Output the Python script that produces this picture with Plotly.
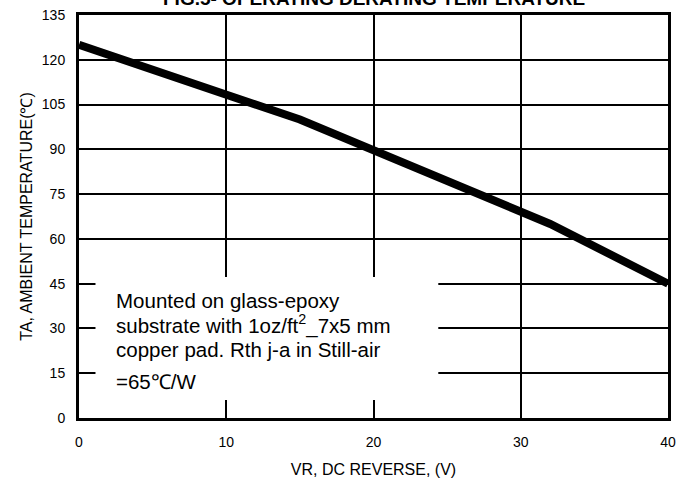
import plotly.graph_objects as go

# Data
vr = [0, 15, 32, 40]
ta = [125, 100, 65, 45]
x_ticks = [0, 10, 20, 30, 40]
y_ticks = [0, 15, 30, 45, 60, 75, 90, 105, 120, 135]
note_lines = [
    "Mounted on glass-epoxy",
    "substrate with 1oz/ft<sup>2</sup>_7x5 mm",
    "copper pad. Rth j-a in Still-air",
    "=65\u2103/W",
]
note_y = [39.5, 31.2, 22.8, 12.1]

FONT = "Liberation Sans, Arial, sans-serif"

fig = go.Figure()
fig.add_trace(go.Scatter(x=vr, y=ta, mode="lines",
                         line=dict(color="black", width=8), showlegend=False,
                         cliponaxis=True))

fig.add_shape(type="rect", xref="x", yref="y", x0=1.12, x1=24.4, y0=6.0, y1=47.2,
              fillcolor="white", line=dict(width=0), layer="between")

for txt, yy in zip(note_lines, note_y):
    fig.add_annotation(x=2.35, y=yy, xref="x", yref="y", text=txt, showarrow=False,
                       xanchor="left", yanchor="middle",
                       font=dict(family=FONT, size=20.5, color="black"))

# Title (partly cut off at the top of the page)
fig.add_annotation(x=0.5, y=1.0, xref="paper", yref="paper", yshift=17,
                   text="<b>FIG.5- OPERATING DERATING TEMPERATURE</b>", showarrow=False,
                   xanchor="center", yanchor="middle",
                   font=dict(family=FONT, size=19, color="black"))

fig.update_xaxes(range=[0, 40], tickvals=x_ticks, showgrid=True, gridcolor="black", gridwidth=2,
                 showline=True, linecolor="black", linewidth=3, mirror=True, zeroline=False,
                 ticks="", ticklabelstandoff=9,
                 tickfont=dict(family=FONT, size=14, color="black"),
                 title=dict(text="VR, DC REVERSE, (V)", standoff=16,
                            font=dict(family=FONT, size=16, color="black")))
fig.update_yaxes(range=[0, 135], tickvals=y_ticks, showgrid=True, gridcolor="black", gridwidth=2,
                 showline=True, linecolor="black", linewidth=3, mirror=True, zeroline=False,
                 ticks="", ticklabelstandoff=8,
                 tickfont=dict(family=FONT, size=14, color="black"),
                 title=dict(text="TA, AMBIENT TEMPERATURE(\u2103)", standoff=6,
                            font=dict(family=FONT, size=16, color="black")))

fig.update_layout(width=694, height=479, paper_bgcolor="white", plot_bgcolor="white",
                  margin=dict(l=79, r=26, t=15, b=61, autoexpand=False),
                  showlegend=False)

fig.write_html("out.html", config={"displayModeBar": False},
               post_script="document.body.style.margin='0';document.body.style.overflow='hidden';")
